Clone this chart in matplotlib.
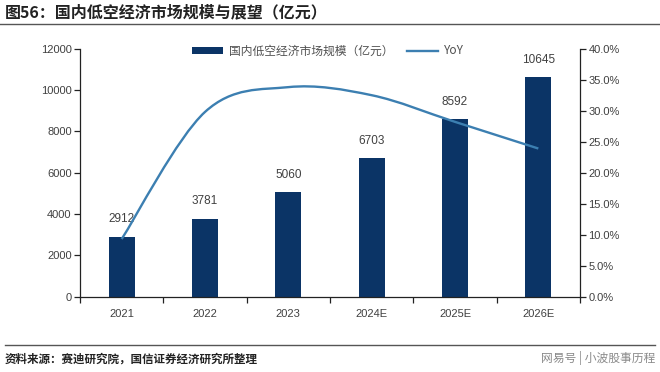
import matplotlib
matplotlib.use("Agg")
import matplotlib.pyplot as plt
from matplotlib.path import Path
from matplotlib.patches import PathPatch
from matplotlib.lines import Line2D
from matplotlib.patches import Patch
from matplotlib.ticker import FixedLocator, FuncFormatter
import numpy as np

plt.rcParams['font.family'] = ['Noto Sans CJK SC', 'DejaVu Sans']

categories = ["2021", "2022", "2023", "2024E", "2025E", "2026E"]
market_size = [2912, 3781, 5060, 6703, 8592, 10645]
yoy = [9.3, 29.8, 33.8, 32.5, 28.2, 23.9]

bar_color = "#0B3466"
line_color = "#3C7FB1"
text_color = "#404040"
num_font = ['Liberation Sans', 'Noto Sans CJK SC']

fig = plt.figure(figsize=(6.6, 3.72), dpi=100)
ax = fig.add_axes([80/660, 1-296.7/372, 500/660, 248/372])
ax2 = ax.twinx()

x = np.arange(len(categories))
ax.bar(x, market_size, width=0.31, color=bar_color, zorder=2)
for xi, v in zip(x, market_size):
    ax.annotate(str(v), (xi, v), xytext=(0, 8), textcoords='offset points',
                ha='center', va='bottom', fontsize=8.5, color=text_color,
                family=num_font)

ax.set_xlim(-0.5, len(categories) - 0.5)
ax.set_ylim(0, 12000)
ax.set_yticks(np.arange(0, 12001, 2000))
ax2.set_ylim(0, 40)
ax2.set_yticks(np.arange(0, 40.1, 5))
ax2.yaxis.set_major_formatter(FuncFormatter(lambda v, p: f"{v:.1f}%"))

ax.set_xticks(x)
ax.set_xticklabels(categories)
ax.xaxis.set_minor_locator(FixedLocator(np.arange(-0.5, len(categories), 1)))
ax.tick_params(axis='x', which='major', length=0, pad=9)
ax.tick_params(axis='x', which='minor', length=4, width=0.9, color='#222222', direction='out')

for a in (ax, ax2):
    a.tick_params(axis='y', length=4, width=0.9, color='#222222', direction='out',
                  labelsize=8, labelcolor=text_color, pad=2)
    for s in a.spines.values():
        s.set_visible(False)
ax.tick_params(axis='x', labelsize=8, labelcolor=text_color)
for lab in ax.get_xticklabels() + ax.get_yticklabels() + ax2.get_yticklabels():
    lab.set_family(num_font)

ax.spines['left'].set_visible(True)
ax.spines['bottom'].set_visible(True)
ax2.spines['right'].set_visible(True)
for s in (ax.spines['left'], ax.spines['bottom'], ax2.spines['right']):
    s.set_color('#222222')
    s.set_linewidth(0.9)

# smooth (Catmull-Rom style) curve through YoY points
pts = np.column_stack([x, yoy]).astype(float)
verts = [tuple(pts[0])]
codes = [Path.MOVETO]
n = len(pts)
for i in range(n - 1):
    p0 = pts[i - 1] if i > 0 else pts[i]
    p1 = pts[i]
    p2 = pts[i + 1]
    p3 = pts[i + 2] if i + 2 < n else pts[i + 1]
    c1 = p1 + (p2 - p0) / 6.0
    c2 = p2 - (p3 - p1) / 6.0
    verts += [tuple(c1), tuple(c2), tuple(p2)]
    codes += [Path.CURVE4] * 3
ax2.add_patch(PathPatch(Path(verts, codes), facecolor='none',
                        edgecolor=line_color, lw=1.7, zorder=3))

handles = [Patch(facecolor=bar_color, edgecolor='none'),
           Line2D([0], [0], color=line_color, lw=1.7)]
labels = ["国内低空经济市场规模（亿元）", "YoY"]
leg = fig.legend(handles, labels, loc='center left', bbox_to_anchor=(192/660, 1-51/372),
                 ncol=2, frameon=False, fontsize=8.5, handlelength=2.6,
                 handleheight=0.5, columnspacing=1.2, handletextpad=0.5,
                 borderaxespad=0, borderpad=0)
for t in leg.get_texts():
    t.set_color('#505050')

# title & footer
fig.text(5/660, 1-12/372, "图56：国内低空经济市场规模与展望（亿元）", fontsize=11.5,
         fontweight='bold', color='#222222', ha='left', va='center')
fig.add_artist(Line2D([0, 1], [1-24/372, 1-24/372], color='#555555', lw=1.0))
fig.add_artist(Line2D([5/660, 655/660], [1-345/372, 1-345/372], color='#555555', lw=1.0))
fig.text(5/660, 1-359/372, "资料来源：赛迪研究院，国信证券经济研究所整理", fontsize=8.3,
         fontweight='bold', color='#222222', ha='left', va='center')
fig.text(655/660, 1-358/372, "网易号 | 小波股事历程", fontsize=8.5,
         color='#8a8a8a', ha='right', va='center')

fig.savefig("out.png", dpi=100)
